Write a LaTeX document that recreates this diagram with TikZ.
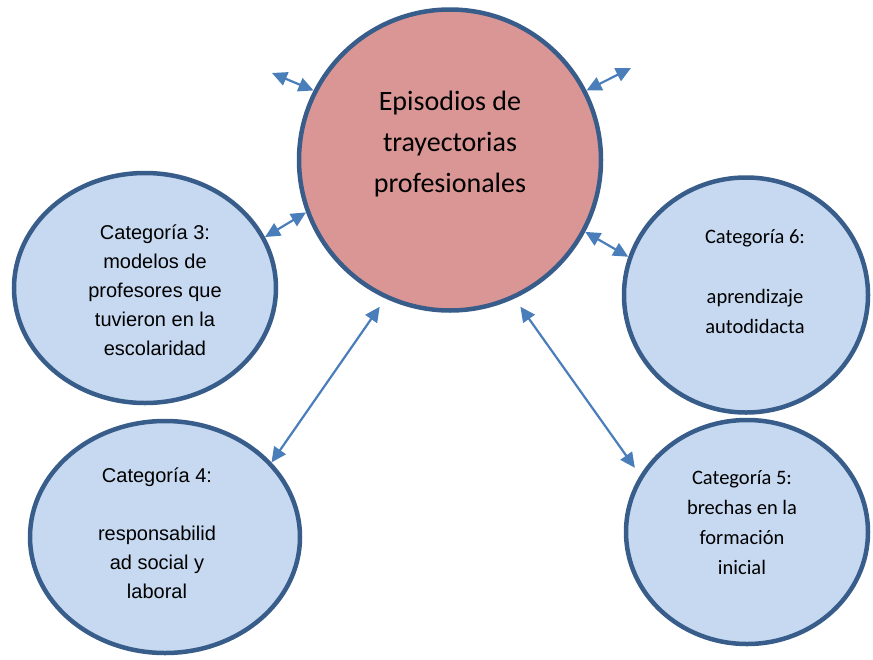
\documentclass[tikz,border=0pt]{standalone}
\usepackage{fontspec}
\setmainfont{Carlito}
\newfontfamily\arialfont{Liberation Sans}
\usetikzlibrary{arrows.meta,shapes.geometric}
\definecolor{rimblue}{HTML}{385D8A}
\definecolor{rosefill}{HTML}{D99694}
\definecolor{catfill}{HTML}{C6D9F1}
\definecolor{linkblue}{HTML}{4A7EBB}

\begin{document}
\begin{tikzpicture}[x=1pt, y=-1pt,
    hub/.style={ellipse, draw=rimblue, line width=4.5pt, fill=rosefill, inner sep=0pt},
    cat/.style={ellipse, draw=rimblue, line width=4.5pt, fill=catfill, inner sep=0pt},
    hubtext/.style={align=center, font=\fontsize{28}{41}\selectfont},
    cattext/.style={align=center, font=\arialfont\fontsize{20}{29}\selectfont},
    cattextb/.style={align=center, font=\fontsize{20.5}{30}\selectfont},
    link/.style={draw=linkblue, line width=2.2pt,
        {Triangle[length=15pt,width=14pt]}-{Triangle[length=15pt,width=14pt]}}
]
    \useasboundingbox (0,0) rectangle (873,659);
    % circles
    \node[hub, minimum width=302pt, minimum height=301pt] (hub) at (450,160) {};
    \node[cat, minimum width=262pt, minimum height=230pt] (cat3) at (145,288) {};
    \node[cat, minimum width=270pt, minimum height=232pt] (cat4) at (165,537) {};
    \node[cat, minimum width=242pt, minimum height=224pt] (cat5) at (747,532) {};
    \node[cat, minimum width=244pt, minimum height=235pt] (cat6) at (746,295) {};
    % texts
    \node[hubtext] (hubt) at (450,144) {Episodios de\\trayectorias\\profesionales};
    \node[cattext] (cat3t) at (155,290) {Categoría 3:\\modelos de\\profesores que\\tuvieron en la\\escolaridad};
    \node[cattext] (cat4t) at (157,533) {Categoría 4:\\~\\responsabilid\\ad social y\\laboral};
    \node[cattextb] (cat5t) at (742,523) {Categoría 5:\\brechas en la\\formación\\inicial};
    \node[cattextb] (cat6t) at (755,282) {Categoría 6:\\~\\aprendizaje\\autodidacta};
    % arrows
    \coordinate (nw) at (272,73);
    \coordinate (ne) at (631,68);
    \draw[link] (nw) -- (hub.153);
    \draw[link] (hub.27) -- (ne);
    \draw[link] (cat3.23) -- (hub.200);
    \draw[link] (hub.-28) -- (cat6.162);
    \draw[link, shorten <=10pt] (hub.245) -- (cat4.35);
    \draw[link, shorten <=10pt, shorten >=9pt] (hub.-65) -- (cat5.152);
\end{tikzpicture}
\end{document}
